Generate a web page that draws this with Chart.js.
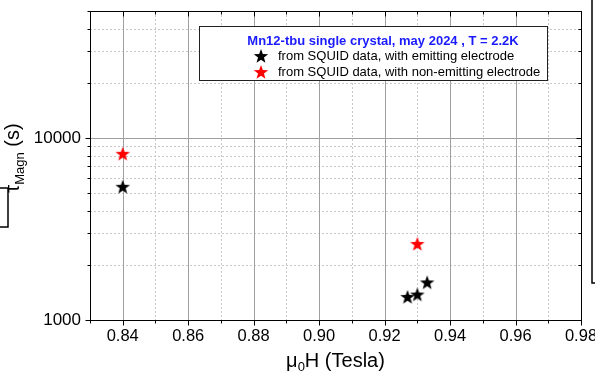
<!DOCTYPE html>
<html>
<head>
<meta charset="utf-8">
<script src="https://cdn.jsdelivr.net/npm/chart.js@4.4.1/dist/chart.umd.min.js"></script>
<style>
  html, body { margin: 0; padding: 0; background: #ffffff; }
  canvas { display: block; }
</style>
</head>
<body>
<canvas id="chart" width="595" height="374"></canvas>
<script>
// Relaxation time of the magnetization vs. applied field
const fieldsEmitting = [0.840, 0.927, 0.930, 0.933];
const tauEmitting = [5400, 1340, 1380, 1610];
const fieldsNonEmitting = [0.840, 0.930];
const tauNonEmitting = [8200, 2620];

const xMajorTicks = [0.84, 0.86, 0.88, 0.90, 0.92, 0.94, 0.96, 0.98];
const xMinorTicks = [0.83, 0.85, 0.87, 0.89, 0.91, 0.93, 0.95, 0.97];
const yMajorTicks = [1000, 10000];
const yMinorTicks = [2000, 3000, 4000, 5000, 6000, 7000, 8000, 9000, 20000, 30000, 40000, 50000];

const legendTitle = 'Mn12-tbu single crystal, may 2024 , T = 2.2K';
const seriesNames = ['from SQUID data, with emitting electrode', 'from SQUID data, with non-emitting electrode'];

const FONT = '"Liberation Sans", Arial, Helvetica, sans-serif';

function makeStar(color) {
  const size = 16;
  const c = document.createElement('canvas');
  c.width = size; c.height = size;
  const g = c.getContext('2d');
  const cx = size / 2, cy = size / 2 + 0.6, ro = 7.6, ri = 3.1;
  g.beginPath();
  for (let i = 0; i < 10; i++) {
    const r = i % 2 === 0 ? ro : ri;
    const a = -Math.PI / 2 + i * Math.PI / 5;
    const px = cx + r * Math.cos(a), py = cy + r * Math.sin(a);
    if (i === 0) g.moveTo(px, py); else g.lineTo(px, py);
  }
  g.closePath();
  g.fillStyle = color;
  g.fill();
  return c;
}
const blackStar = makeStar('#000000');
const redStar = makeStar('#ff0000');

function pairs(xs, ys) { return xs.map((x, i) => ({ x: x, y: ys[i] })); }

function noEdgePadding(scale) {
  scale.paddingLeft = 0; scale.paddingRight = 0;
  scale.paddingTop = 0; scale.paddingBottom = 0;
}

const framePlugin = {
  id: 'frame',
  beforeDatasetsDraw(chart) {
    const { ctx, chartArea: a, scales: { x, y } } = chart;
    ctx.save();
    ctx.lineWidth = 1;
    // dotted minor grid
    ctx.strokeStyle = '#c8c8c8';
    ctx.setLineDash([2, 2]);
    xMinorTicks.forEach(v => {
      const px = Math.round(x.getPixelForValue(v)) + 0.5;
      if (px <= a.left + 1 || px >= a.right - 1) return;
      ctx.beginPath(); ctx.moveTo(px, a.top); ctx.lineTo(px, a.bottom); ctx.stroke();
    });
    yMinorTicks.forEach(v => {
      const py = Math.round(y.getPixelForValue(v)) + 0.5;
      if (py <= a.top + 1 || py >= a.bottom - 1) return;
      ctx.beginPath(); ctx.moveTo(a.left, py); ctx.lineTo(a.right, py); ctx.stroke();
    });
    // solid major grid
    ctx.setLineDash([]);
    ctx.strokeStyle = '#a0a0a0';
    xMajorTicks.forEach(v => {
      const px = Math.round(x.getPixelForValue(v)) + 0.5;
      if (px <= a.left + 1 || px >= a.right - 1) return;
      ctx.beginPath(); ctx.moveTo(px, a.top); ctx.lineTo(px, a.bottom); ctx.stroke();
    });
    yMajorTicks.forEach(v => {
      const py = Math.round(y.getPixelForValue(v)) + 0.5;
      if (py <= a.top + 1 || py >= a.bottom - 1) return;
      ctx.beginPath(); ctx.moveTo(a.left, py); ctx.lineTo(a.right, py); ctx.stroke();
    });
    ctx.restore();
  },
  afterDatasetsDraw(chart) {
    const { ctx, chartArea: a, scales: { x, y } } = chart;
    ctx.save();
    ctx.strokeStyle = '#000000';
    ctx.lineWidth = 1;
    const L = Math.round(a.left) + 0.5, R = Math.round(a.right) + 0.5;
    const T = Math.round(a.top) + 0.5, B = Math.round(a.bottom) + 0.5;
    ctx.strokeRect(L, T, R - L, B - T);

    // tick marks: outward on bottom/left, inward on top/right
    const seg = (x1, y1, x2, y2) => { ctx.beginPath(); ctx.moveTo(x1, y1); ctx.lineTo(x2, y2); ctx.stroke(); };
    xMajorTicks.forEach(v => {
      const px = Math.round(x.getPixelForValue(v)) + 0.5;
      seg(px, B, px, B + 5); seg(px, T, px, T + 5);
    });
    xMinorTicks.forEach(v => {
      const px = Math.round(x.getPixelForValue(v)) + 0.5;
      seg(px, B, px, B + 3); seg(px, T, px, T + 3);
    });
    yMajorTicks.forEach(v => {
      const py = Math.round(y.getPixelForValue(v)) + 0.5;
      seg(L - 5, py, L, py); seg(R - 5, py, R, py);
    });
    yMinorTicks.forEach(v => {
      const py = Math.round(y.getPixelForValue(v)) + 0.5;
      seg(L - 3, py, L, py); seg(R - 3, py, R, py);
    });

    // legend box
    const bx = 199.5, by = 26.5, bw = 348, bh = 54;
    ctx.fillStyle = '#ffffff';
    ctx.fillRect(bx, by, bw, bh);
    ctx.strokeStyle = '#222222';
    ctx.strokeRect(bx, by, bw, bh);
    ctx.textBaseline = 'middle';
    ctx.textAlign = 'center';
    ctx.fillStyle = '#1a1aff';
    ctx.font = 'bold 13px ' + FONT;
    ctx.fillText(legendTitle, 383, 41);
    ctx.textAlign = 'left';
    ctx.fillStyle = '#000000';
    ctx.font = '13px ' + FONT;
    const stars = [blackStar, redStar];
    [56, 72].forEach((ly, i) => {
      ctx.drawImage(stars[i], 261 - 8, ly - 8);
      ctx.fillText(seriesNames[i], 278, ly);
    });

    // axis titles
    ctx.fillStyle = '#000000';
    ctx.textBaseline = 'alphabetic';
    ctx.textAlign = 'left';
    const tMain = '20px ' + FONT, tSub = '13px ' + FONT;
    ctx.font = tMain; const wMu = ctx.measureText('\u03bc').width;
    ctx.font = tSub; const wZero = ctx.measureText('0').width;
    ctx.font = tMain; const wRest = ctx.measureText('H (Tesla)').width;
    let sx = (a.left + a.right) / 2 - (wMu + wZero + wRest) / 2;
    const baseX = 367;
    ctx.font = tMain; ctx.fillText('\u03bc', sx, baseX); sx += wMu;
    ctx.font = tSub; ctx.fillText('0', sx, baseX + 4); sx += wZero;
    ctx.font = tMain; ctx.fillText('H (Tesla)', sx, baseX);

    ctx.save();
    ctx.translate(19, 158);
    ctx.rotate(-Math.PI / 2);
    ctx.font = tMain; const wTau = ctx.measureText('\u03c4').width;
    ctx.font = tSub; const wMagn = ctx.measureText('Magn').width;
    ctx.font = tMain; const wS = ctx.measureText(' (s)').width;
    let tx = -(wTau + wMagn + wS) / 2;
    ctx.font = tMain; ctx.fillText('\u03c4', tx, 0); tx += wTau;
    ctx.font = tSub; ctx.fillText('Magn', tx, 5); tx += wMagn;
    ctx.font = tMain; ctx.fillText(' (s)', tx, 0);
    ctx.restore();

    // neighbouring panel edges
    ctx.strokeStyle = '#000000';
    ctx.lineWidth = 1.5;
    ctx.beginPath(); ctx.moveTo(0, 188); ctx.lineTo(8, 188); ctx.lineTo(8, 227); ctx.lineTo(0, 227); ctx.stroke();
    ctx.beginPath(); ctx.moveTo(592, 0); ctx.lineTo(592, 283); ctx.lineTo(595, 283); ctx.stroke();
    ctx.restore();
  }
};

new Chart(document.getElementById('chart'), {
  type: 'scatter',
  data: {
    datasets: [
      {
        label: seriesNames[0],
        data: pairs(fieldsEmitting, tauEmitting),
        pointStyle: blackStar,
        backgroundColor: '#000000',
        borderColor: '#000000'
      },
      {
        label: seriesNames[1],
        data: pairs(fieldsNonEmitting, tauNonEmitting),
        pointStyle: redStar,
        backgroundColor: '#ff0000',
        borderColor: '#ff0000'
      }
    ]
  },
  options: {
    responsive: false,
    animation: false,
    devicePixelRatio: 1,
    layout: { padding: { top: 11, right: 14, left: 0, bottom: 0 } },
    plugins: { legend: { display: false }, tooltip: { enabled: false } },
    scales: {
      x: {
        type: 'linear',
        min: 0.83,
        max: 0.98,
        grid: { display: false, drawTicks: false },
        border: { display: false },
        afterBuildTicks(scale) { scale.ticks = xMajorTicks.map(v => ({ value: v })); },
        afterFit(scale) { scale.height = 54; noEdgePadding(scale); },
        ticks: {
          autoSkip: false,
          maxRotation: 0,
          padding: 7,
          color: '#000000',
          font: { family: FONT, size: 16.5 },
          callback: v => Number(v).toFixed(2)
        }
      },
      y: {
        type: 'logarithmic',
        min: 1000,
        max: 50000,
        grid: { display: false, drawTicks: false },
        border: { display: false },
        afterBuildTicks(scale) { scale.ticks = yMajorTicks.map(v => ({ value: v })); },
        afterFit(scale) { scale.width = 90; noEdgePadding(scale); },
        ticks: {
          autoSkip: false,
          padding: 9,
          color: '#000000',
          font: { family: FONT, size: 17 },
          callback: v => String(v)
        }
      }
    }
  },
  plugins: [framePlugin]
});
</script>
</body>
</html>
